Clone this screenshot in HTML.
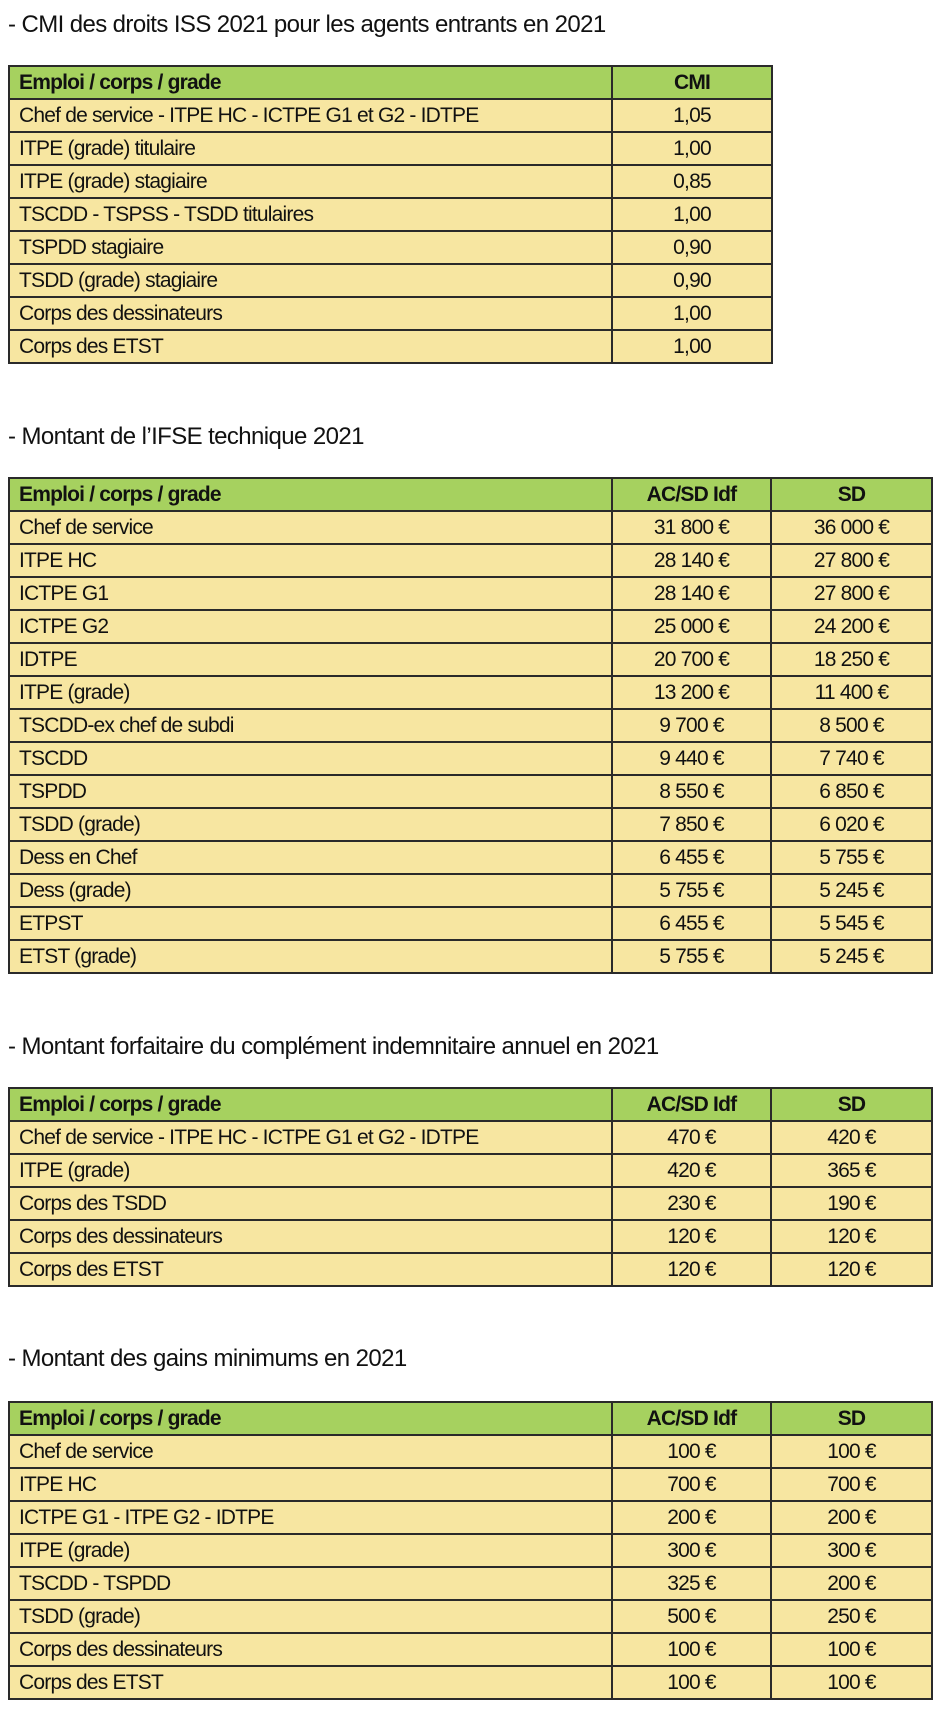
<!DOCTYPE html>
<html><head><meta charset="utf-8"><style>
body{margin:0;width:940px;height:1713px;background:#fff;position:relative;font-family:"Liberation Sans",sans-serif;overflow:hidden}
.t{position:absolute;left:8px;font-size:24px;letter-spacing:-0.6px;color:#111;line-height:1}
table{position:absolute;left:8px;border-collapse:collapse;table-layout:fixed;font-size:21px;letter-spacing:-0.8px;color:#111}
tr{height:33px}
td{border:2px solid #2a2a2a;height:33px;padding:0 0 0 9px;background:#f7e6a1;white-space:nowrap;overflow:hidden;box-sizing:border-box;line-height:1}
td.n{text-align:center;padding:0}
tr.h td{background:#a6d15f;font-weight:bold}
</style></head><body>
<div class="t" style="top:13px">- CMI des droits ISS 2021 pour les agents entrants en 2021</div>
<table style="top:65px;width:763px"><colgroup><col style="width:603px"><col style="width:160px"></colgroup>
<tr class="h"><td>Emploi / corps / grade</td><td class="n">CMI</td></tr>
<tr><td>Chef de service - ITPE HC - ICTPE G1 et G2 - IDTPE</td><td class="n">1,05</td></tr>
<tr><td>ITPE (grade) titulaire</td><td class="n">1,00</td></tr>
<tr><td>ITPE (grade) stagiaire</td><td class="n">0,85</td></tr>
<tr><td>TSCDD - TSPSS - TSDD titulaires</td><td class="n">1,00</td></tr>
<tr><td>TSPDD stagiaire</td><td class="n">0,90</td></tr>
<tr><td>TSDD (grade) stagiaire</td><td class="n">0,90</td></tr>
<tr><td>Corps des dessinateurs</td><td class="n">1,00</td></tr>
<tr><td>Corps des ETST</td><td class="n">1,00</td></tr>
</table>

<div class="t" style="top:425px">- Montant de l’IFSE technique 2021</div>
<table style="top:477px;width:923px"><colgroup><col style="width:603px"><col style="width:159px"><col style="width:161px"></colgroup>
<tr class="h"><td>Emploi / corps / grade</td><td class="n">AC/SD Idf</td><td class="n">SD</td></tr>
<tr><td>Chef de service</td><td class="n">31 800 €</td><td class="n">36 000 €</td></tr>
<tr><td>ITPE HC</td><td class="n">28 140 €</td><td class="n">27 800 €</td></tr>
<tr><td>ICTPE G1</td><td class="n">28 140 €</td><td class="n">27 800 €</td></tr>
<tr><td>ICTPE G2</td><td class="n">25 000 €</td><td class="n">24 200 €</td></tr>
<tr><td>IDTPE</td><td class="n">20 700 €</td><td class="n">18 250 €</td></tr>
<tr><td>ITPE (grade)</td><td class="n">13 200 €</td><td class="n">11 400 €</td></tr>
<tr><td>TSCDD-ex chef de subdi</td><td class="n">9 700 €</td><td class="n">8 500 €</td></tr>
<tr><td>TSCDD</td><td class="n">9 440 €</td><td class="n">7 740 €</td></tr>
<tr><td>TSPDD</td><td class="n">8 550 €</td><td class="n">6 850 €</td></tr>
<tr><td>TSDD (grade)</td><td class="n">7 850 €</td><td class="n">6 020 €</td></tr>
<tr><td>Dess en Chef</td><td class="n">6 455 €</td><td class="n">5 755 €</td></tr>
<tr><td>Dess (grade)</td><td class="n">5 755 €</td><td class="n">5 245 €</td></tr>
<tr><td>ETPST</td><td class="n">6 455 €</td><td class="n">5 545 €</td></tr>
<tr><td>ETST (grade)</td><td class="n">5 755 €</td><td class="n">5 245 €</td></tr>
</table>

<div class="t" style="top:1035px">- Montant forfaitaire du complément indemnitaire annuel en 2021</div>
<table style="top:1087px;width:923px"><colgroup><col style="width:603px"><col style="width:159px"><col style="width:161px"></colgroup>
<tr class="h"><td>Emploi / corps / grade</td><td class="n">AC/SD Idf</td><td class="n">SD</td></tr>
<tr><td>Chef de service - ITPE HC - ICTPE G1 et G2 - IDTPE</td><td class="n">470 €</td><td class="n">420 €</td></tr>
<tr><td>ITPE (grade)</td><td class="n">420 €</td><td class="n">365 €</td></tr>
<tr><td>Corps des TSDD</td><td class="n">230 €</td><td class="n">190 €</td></tr>
<tr><td>Corps des dessinateurs</td><td class="n">120 €</td><td class="n">120 €</td></tr>
<tr><td>Corps des ETST</td><td class="n">120 €</td><td class="n">120 €</td></tr>
</table>

<div class="t" style="top:1347px">- Montant des gains minimums en 2021</div>
<table style="top:1401px;width:923px"><colgroup><col style="width:603px"><col style="width:159px"><col style="width:161px"></colgroup>
<tr class="h"><td>Emploi / corps / grade</td><td class="n">AC/SD Idf</td><td class="n">SD</td></tr>
<tr><td>Chef de service</td><td class="n">100 €</td><td class="n">100 €</td></tr>
<tr><td>ITPE HC</td><td class="n">700 €</td><td class="n">700 €</td></tr>
<tr><td>ICTPE G1 - ITPE G2 - IDTPE</td><td class="n">200 €</td><td class="n">200 €</td></tr>
<tr><td>ITPE (grade)</td><td class="n">300 €</td><td class="n">300 €</td></tr>
<tr><td>TSCDD - TSPDD</td><td class="n">325 €</td><td class="n">200 €</td></tr>
<tr><td>TSDD (grade)</td><td class="n">500 €</td><td class="n">250 €</td></tr>
<tr><td>Corps des dessinateurs</td><td class="n">100 €</td><td class="n">100 €</td></tr>
<tr><td>Corps des ETST</td><td class="n">100 €</td><td class="n">100 €</td></tr>
</table>
</body></html>
